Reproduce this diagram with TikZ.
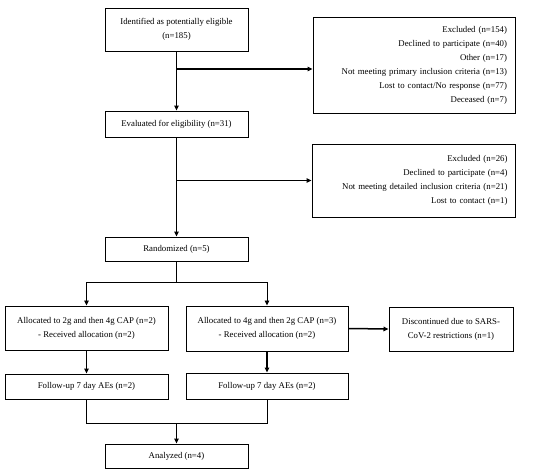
\documentclass[tikz,border=0pt]{standalone}
\usepackage{fontspec}
\setmainfont{Liberation Serif}
\usetikzlibrary{arrows.meta}
\begin{document}
\begin{tikzpicture}[x=1pt,y=-1pt,
  box/.style={draw, line width=1pt, inner sep=0pt, align=center, font=\fontsize{8.8}{14}\selectfont},
  exbox/.style={box, align=right},
  thk/.style={line width=1.5pt, -{Triangle[length=5pt,width=4.5pt]}},
  thn/.style={line width=0.7pt},
  thnarr/.style={line width=0.9pt, -{Triangle[length=5pt,width=4.5pt]}}]
\useasboundingbox (0,0) rectangle (550,475);
\fill[white] (0,0) rectangle (550,475);
\node[box, minimum width=143pt, minimum height=43pt] (id) at (176.5,29.5) {Identified as potentially eligible\\(n=185)};
\node[exbox, minimum width=202pt, minimum height=96pt, text width=186pt] (ex1) at (414,65)
  {Excluded (n=154)\\Declined to participate (n=40)\\Other (n=17)\\Not meeting primary inclusion criteria (n=13)\\Lost to contact/No response (n=77)\\Deceased (n=7)};
\node[box, minimum width=143pt, minimum height=26pt] (ev) at (176.5,124) {Evaluated for eligibility (n=31)};
\node[exbox, minimum width=203pt, minimum height=73pt, text width=188pt] (ex2) at (413.5,180.5)
  {Excluded (n=26)\\Declined to participate (n=4)\\Not meeting detailed inclusion criteria (n=21)\\Lost to contact (n=1)};
\node[box, minimum width=143pt, minimum height=24pt] (rd) at (176.5,249) {Randomized (n=5)};
\node[box, minimum width=163pt, minimum height=44pt] (a1) at (86.5,328) {Allocated to 2g and then 4g CAP (n=2)\\- Received allocation (n=2)};
\node[box, minimum width=162pt, minimum height=45pt] (a2) at (267,328.5) {Allocated to 4g and then 2g CAP (n=3)\\- Received allocation (n=2)};
\node[box, minimum width=124pt, minimum height=44pt] (dc) at (451,329) {Discontinued due to SARS-\\CoV-2 restrictions (n=1)};
\node[box, minimum width=163pt, minimum height=25pt] (f1) at (86.5,386.5) {Follow-up 7 day AEs (n=2)};
\node[box, minimum width=162pt, minimum height=26pt] (f2) at (267,386) {Follow-up 7 day AEs (n=2)};
\node[box, minimum width=143pt, minimum height=24pt] (an) at (176.5,456) {Analyzed (n=4)};
% connectors
\coordinate (b1) at (176.5,69);
\coordinate (b2) at (176.5,180.5);
\coordinate (sp) at (176.5,282);
\coordinate (mg) at (176.5,423);
\draw[thk] (id.south) -- (ev.north);
\draw[thk] (b1) -- (b1 -| ex1.west);
\draw[thk] (ev.south) -- (rd.north);
\draw[thk] (b2) -- (b2 -| ex2.west);
\draw[thn] (rd.south) -- (sp);
\draw[thn] (sp -| a1.north) -- (sp -| a2.north);
\draw[thnarr] (sp -| a1.north) -- (a1.north);
\draw[thnarr] (sp -| a2.north) -- (a2.north);
\draw[thk] (a2.east) -- (dc.west);
\draw[thk] (a1.south) -- (f1.north);
\draw[thk] (a2.south) -- (f2.north);
\draw[thn] (f1.south) -- (mg -| f1.south) -- (mg -| f2.south) -- (f2.south);
\draw[thk] (mg) -- (an.north);
\end{tikzpicture}
\end{document}
